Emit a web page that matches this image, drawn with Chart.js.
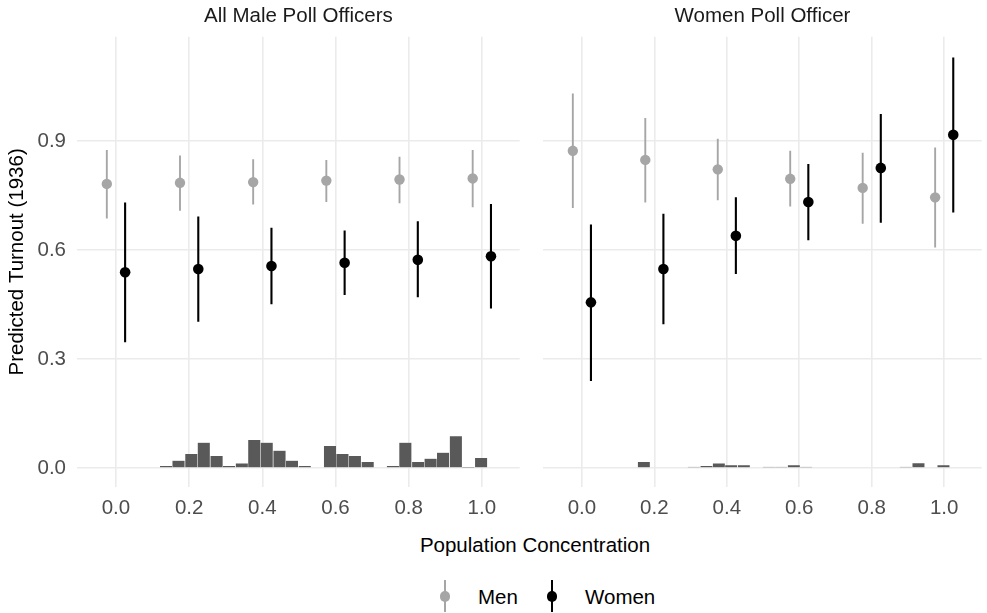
<!DOCTYPE html>
<html>
<head>
<meta charset="utf-8">
<script src="https://cdn.jsdelivr.net/npm/chart.js@4.4.1/dist/chart.umd.min.js"></script>
<style>
  body { margin: 0; background: #fff; font-family: "Liberation Sans", Arial, sans-serif; }
  #page { position: relative; width: 987px; height: 613px; overflow: hidden; }
  .panel { position: absolute; top: 0; height: 530px; }
  #leftWrap { left: 0; width: 525px; }
  #rightWrap { left: 538px; width: 449px; }
  #xTitle { position: absolute; left: 335px; width: 400px; top: 533px; line-height: 24px;
            text-align: center; font-size: 20.5px; color: #000; }
  .keyLine { position: absolute; width: 2px; top: 580px; height: 32px; }
  .keyDot { position: absolute; width: 10.6px; height: 10.6px; border-radius: 50%; top: 591px; }
  .keyText { position: absolute; top: 585px; line-height: 24px; font-size: 20.5px; color: #000; }
</style>
</head>
<body>
<div id="page">
  <div class="panel" id="leftWrap"><canvas id="leftChart"></canvas></div>
  <div class="panel" id="rightWrap"><canvas id="rightChart"></canvas></div>
  <div id="xTitle">Population Concentration</div>
  <div class="keyLine" style="left:444px;background:#a6a6a6"></div>
  <div class="keyDot" style="left:439.7px;background:#a6a6a6"></div>
  <div class="keyText" style="left:478px">Men</div>
  <div class="keyLine" style="left:551px;background:#000"></div>
  <div class="keyDot" style="left:546.7px;background:#000"></div>
  <div class="keyText" style="left:585px">Women</div>
</div>
<script>
// Axis ticks
const concentration = [0, 0.2, 0.4, 0.6, 0.8, 1.0];
const xTickValues = [0, 0.2, 0.4, 0.6, 0.8, 1.0];
const xTickLabels = ["0.0", "0.2", "0.4", "0.6", "0.8", "1.0"];
const yTickValues = [0, 0.3, 0.6, 0.9];
const yTickLabels = ["0.0", "0.3", "0.6", "0.9"];

// All Male Poll Officers
const maleMenFit = [0.782, 0.785, 0.787, 0.791, 0.794, 0.797];
const maleMenLow = [0.687, 0.708, 0.725, 0.732, 0.729, 0.718];
const maleMenHigh = [0.875, 0.860, 0.850, 0.848, 0.857, 0.875];
const maleWomenFit = [0.539, 0.548, 0.556, 0.565, 0.573, 0.583];
const maleWomenLow = [0.346, 0.403, 0.451, 0.476, 0.470, 0.439];
const maleWomenHigh = [0.731, 0.692, 0.661, 0.654, 0.679, 0.727];

// Women Poll Officer
const womenMenFit = [0.873, 0.848, 0.822, 0.796, 0.771, 0.745];
const womenMenLow = [0.716, 0.731, 0.737, 0.720, 0.672, 0.607];
const womenMenHigh = [1.031, 0.963, 0.906, 0.873, 0.868, 0.882];
const womenWomenFit = [0.456, 0.548, 0.639, 0.732, 0.826, 0.917];
const womenWomenLow = [0.240, 0.396, 0.534, 0.627, 0.675, 0.703];
const womenWomenHigh = [0.670, 0.700, 0.745, 0.837, 0.974, 1.130];

// Histogram of population concentration (bar heights on the turnout scale)
const binCenters = [0.137, 0.171, 0.206, 0.240, 0.275, 0.309, 0.344, 0.378, 0.412, 0.447,
                    0.481, 0.516, 0.550, 0.585, 0.619, 0.653, 0.688, 0.722, 0.757, 0.791,
                    0.826, 0.860, 0.894, 0.929, 0.963, 0.998];
const maleHist = [0.006, 0.021, 0.039, 0.070, 0.034, 0.006, 0.013, 0.078, 0.070, 0.048,
                  0.021, 0.006, 0, 0.061, 0.039, 0.034, 0.017, 0, 0.006, 0.070,
                  0.017, 0.026, 0.043, 0.088, 0.002, 0.028];
const womenHist = [0, 0.017, 0, 0, 0, 0.003, 0.006, 0.013, 0.008, 0.008,
                   0, 0.003, 0.003, 0.008, 0.003, 0, 0, 0, 0, 0,
                   0, 0, 0.003, 0.014, 0, 0.008];

const dodge = 0.025;
const menColor = "#a6a6a6";
const womenColor = "#000000";
const gridColor = "#ebebeb";

Chart.defaults.font.family = "'Liberation Sans', Arial, sans-serif";
Chart.defaults.font.size = 20.5;

function rangeData(low, high, shift) {
  const pts = [];
  concentration.forEach((c, i) => {
    pts.push({ x: c + shift, y: low[i] }, { x: c + shift, y: high[i] }, { x: c + shift, y: null });
  });
  return pts;
}

function pointData(fit, shift) {
  return concentration.map((c, i) => ({ x: c + shift, y: fit[i] }));
}

function makePanel(canvasId, title, s, hist, showY) {
  const ctx = document.getElementById(canvasId).getContext("2d");
  return new Chart(ctx, {
    type: "scatter",
    data: {
      datasets: [
        { type: "bar", data: binCenters.map((x, i) => ({ x: x, y: hist[i] })),
          backgroundColor: "#595959", borderColor: "rgba(255,255,255,0.25)", borderWidth: 0.5,
          barPercentage: 1, categoryPercentage: 1, order: 5 },
        { type: "line", data: rangeData(s.menLow, s.menHigh, -dodge), borderColor: menColor,
          borderWidth: 1.9, pointRadius: 0, spanGaps: false, borderCapStyle: "butt", order: 4 },
        { type: "scatter", data: pointData(s.menFit, -dodge), backgroundColor: menColor,
          pointRadius: 5.2, borderWidth: 0, order: 3 },
        { type: "line", data: rangeData(s.womenLow, s.womenHigh, dodge), borderColor: womenColor,
          borderWidth: 2.1, pointRadius: 0, spanGaps: false, borderCapStyle: "butt", order: 2 },
        { type: "scatter", data: pointData(s.womenFit, dodge), backgroundColor: womenColor,
          pointRadius: 5.3, borderWidth: 0, order: 1 }
      ]
    },
    options: {
      responsive: true,
      maintainAspectRatio: false,
      animation: false,
      layout: { padding: { left: 0, right: showY ? 0 : 1, top: 0, bottom: 0 } },
      plugins: {
        legend: { display: false },
        tooltip: { enabled: false },
        title: { display: true, text: title, fullSize: false, color: "#1a1a1a",
                 font: { size: 20.5, weight: "normal" }, padding: { top: 4.4, bottom: 7.7 } }
      },
      scales: {
        x: {
          type: "linear", min: -0.1065, max: 1.1035, offset: false,
          afterBuildTicks: a => { a.ticks = xTickValues.map(v => ({ value: v })); },
          afterFit: a => { a.height = 43; },
          ticks: { callback: (v, i) => xTickLabels[i], color: "#4d4d4d", padding: 9,
                   maxRotation: 0, autoSkip: false },
          grid: { color: gridColor, lineWidth: 1.6, drawTicks: false, offset: false },
          border: { display: false }
        },
        y: {
          type: "linear", min: -0.052, max: 1.187,
          afterBuildTicks: a => { a.ticks = yTickValues.map(v => ({ value: v })); },
          afterFit: a => { a.width = showY ? 77 : 0; },
          ticks: { display: showY, callback: (v, i) => yTickLabels[i], color: "#4d4d4d", padding: 11 },
          grid: { color: gridColor, lineWidth: 1.6, drawTicks: false },
          border: { display: false },
          title: { display: showY, text: "Predicted Turnout (1936)", color: "#000",
                   padding: { top: 5, bottom: 0 } }
        }
      }
    }
  });
}

makePanel("leftChart", "All Male Poll Officers", {
  menFit: maleMenFit, menLow: maleMenLow, menHigh: maleMenHigh,
  womenFit: maleWomenFit, womenLow: maleWomenLow, womenHigh: maleWomenHigh
}, maleHist, true);

makePanel("rightChart", "Women Poll Officer", {
  menFit: womenMenFit, menLow: womenMenLow, menHigh: womenMenHigh,
  womenFit: womenWomenFit, womenLow: womenWomenLow, womenHigh: womenWomenHigh
}, womenHist, false);
</script>
</body>
</html>
